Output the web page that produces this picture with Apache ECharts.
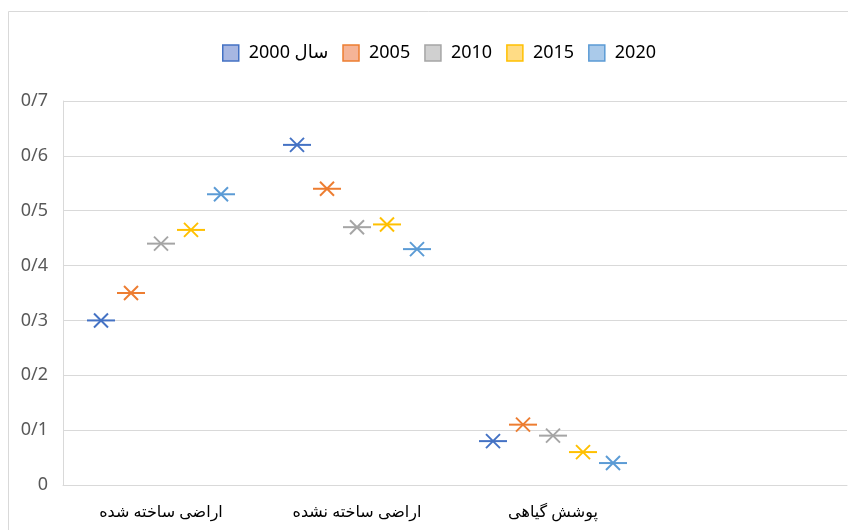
<!DOCTYPE html>
<html lang="fa" style="height: 100%">
<head>
    <meta charset="UTF-8">
    <title>Land cover ratios</title>
    <script src="https://cdn.jsdelivr.net/npm/echarts@6/dist/echarts.min.js"></script>
</head>
<body style="height: 100%; margin: 0">
<div id="main" style="width: 848px; height: 530px"></div>
<script>
    // data
    var categories = ['اراضی ساخته شده', 'اراضی ساخته نشده', 'پوشش گیاهی', ''];
    var seriesNames = ['2000 سال', '2005', '2010', '2015', '2020'];
    var v2000 = [0.30, 0.62, 0.08];
    var v2005 = [0.35, 0.54, 0.11];
    var v2010 = [0.44, 0.47, 0.09];
    var v2015 = [0.465, 0.475, 0.06];
    var v2020 = [0.53, 0.43, 0.04];
    var yTicks = [0, 0.1, 0.2, 0.3, 0.4, 0.5, 0.6, 0.7];

    var values = [v2000, v2005, v2010, v2015, v2020];
    var lineColors = ['#4472C4', '#ED7D31', '#A5A5A5', '#FFC000', '#5B9BD5'];
    var fillColors = ['#A7B7E2', '#F5B497', '#D0D0D0', '#FFDC85', '#AACAEA'];
    var latin = "'Noto Sans', 'DejaVu Sans', sans-serif";
    var slot = 30; // width of one marker slot inside a category cluster

    // Excel-like star marker: x with a horizontal bar through it
    function starItem(params, api) {
        var p = api.coord([api.value(0), api.value(1)]);
        var x = p[0] + (params.seriesIndex - (values.length - 1) / 2) * slot;
        var y = p[1];
        var st = {stroke: lineColors[params.seriesIndex], lineWidth: 2, fill: null};
        return {
            type: 'group',
            children: [
                {type: 'line', shape: {x1: x - 14, y1: y, x2: x + 14, y2: y}, style: st},
                {type: 'line', shape: {x1: x - 7, y1: y - 7, x2: x + 7, y2: y + 7}, style: st},
                {type: 'line', shape: {x1: x + 7, y1: y - 7, x2: x - 7, y2: y + 7}, style: st}
            ]
        };
    }

    var series = [];
    var legendData = [];
    for (var i = 0; i < values.length; i++) {
        series.push({
            name: seriesNames[i],
            type: 'custom',
            renderItem: starItem,
            encode: {x: 0, y: 1},
            data: values[i].map(function (v, k) { return [k, v]; }),
            itemStyle: {color: lineColors[i]},
            emphasis: {disabled: true}
        });
        legendData.push({
            name: seriesNames[i],
            icon: 'rect',
            itemStyle: {color: fillColors[i], borderColor: lineColors[i], borderWidth: 1.5}
        });
    }

    var option = {
        animation: false,
        backgroundColor: '#fff',
        graphic: [{
            type: 'rect',
            shape: {x: 8.5, y: 11.5, width: 900, height: 600},
            style: {fill: 'none', stroke: '#D9D9D9', lineWidth: 1},
            silent: true
        }],
        legend: {
            top: 39,
            left: 217,
            itemWidth: 16,
            itemHeight: 16,
            itemGap: 14,
            textStyle: {fontSize: 18, color: '#000', fontFamily: latin, padding: [0, 0, 0, 5]},
            data: legendData
        },
        grid: {left: 63, right: 1, top: 101, bottom: 45, containLabel: false},
        xAxis: {
            type: 'category',
            data: categories,
            axisLine: {lineStyle: {color: '#D9D9D9'}},
            axisTick: {show: false},
            axisLabel: {fontSize: 16, color: '#000', margin: 19, fontFamily: latin}
        },
        yAxis: {
            type: 'value',
            min: yTicks[0],
            max: yTicks[yTicks.length - 1],
            interval: 0.1,
            axisLine: {show: true, lineStyle: {color: '#D9D9D9'}},
            splitLine: {lineStyle: {color: '#D9D9D9'}},
            axisLabel: {
                fontSize: 18,
                color: '#595959',
                margin: 15,
                fontFamily: latin,
                formatter: function (v) {
                    return String(Math.round(v * 10) / 10).replace('.', '/');
                }
            }
        },
        series: series
    };
    var myChart = echarts.init(document.getElementById('main'));
    myChart.setOption(option);
</script>
</body>
</html>
